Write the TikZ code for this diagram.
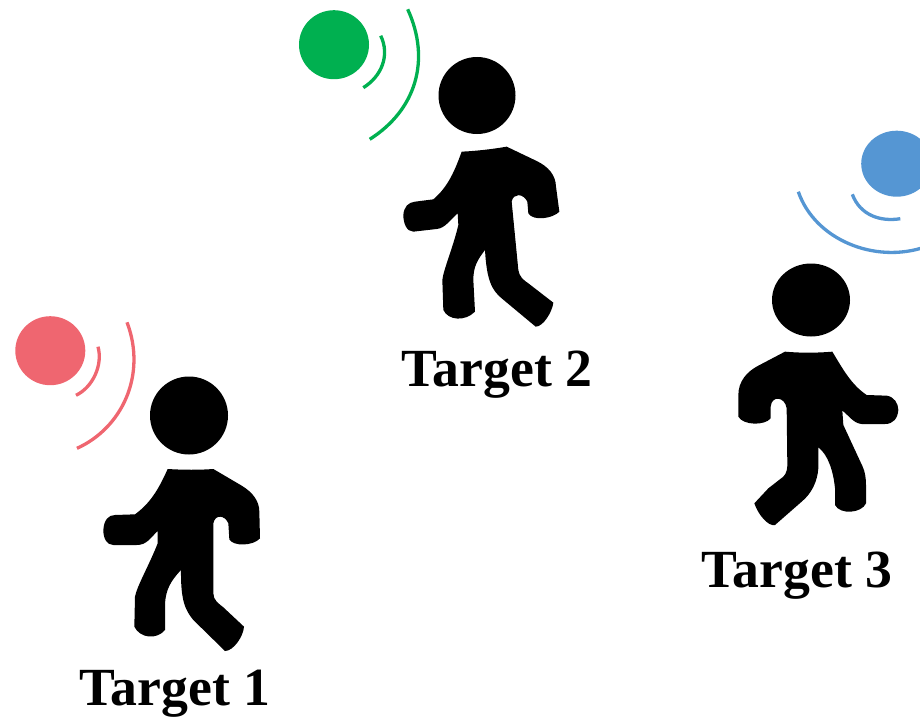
\documentclass[tikz,border=0pt]{standalone}
\usepackage{fontspec}
\usetikzlibrary{shapes.geometric}
\setmainfont{Liberation Serif}
\tikzset{
  ballfill/.style={fill=#1,draw=none},
  wave/.style={draw=#1,line width=3.3pt,line cap=butt},
  label/.style={font=\bfseries\fontsize{53.7}{54}\selectfont,anchor=base,inner sep=0pt},
  figure/.style={fill=black,draw=none}
}
\definecolor{cred}{HTML}{EF6670}
\definecolor{cgreen}{HTML}{00B050}
\definecolor{cblue}{HTML}{5596D3}
\begin{document}
\begin{tikzpicture}[x=1pt,y=-1pt]
\useasboundingbox (0,0) rectangle (920,717);
\clip (0,0) rectangle (920,717);
% walker 1
\node[figure,circle,minimum size=78pt,inner sep=0pt] (head1) at (189,415.5) {};
\begin{scope}[shift={(90,370)},scale=1/3]
  \path[figure] (233,297) .. controls (280,300) and (330,300) .. (370,297)
  -- (455,347) .. controls (490,368) and (508,395) .. (508,425)
  -- (510,505) .. controls (490,528) and (430,530) .. (418,508)
  -- (415,460) .. controls (405,435) and (375,432) .. (370,460)
  -- (370,670) .. controls (370,690) and (385,700) .. (400,712) -- (462,770)
  .. controls (460,800) and (430,843) .. (405,843)
  -- (310,750) .. controls (285,720) and (272,690) .. (273,600)
  .. controls (240,635) and (228,660) .. (225,700) -- (225,780)
  .. controls (200,810) and (150,805) .. (133,770)
  -- (135,680) .. controls (140,650) and (180,580) .. (203,520)
  -- (203,483) .. controls (180,505) and (170,525) .. (140,525)
  -- (70,525) .. controls (50,525) and (40,505) .. (40,480)
  .. controls (42,450) and (55,435) .. (75,435)
  -- (135,433) .. controls (180,400) and (205,360) .. (233,297) -- cycle;
\end{scope}
% walker 2
\node[figure,circle,minimum size=77pt,inner sep=0pt] (head2) at (477,95.5) {};
\begin{scope}[shift={(390,50)},scale=1/3]
  \path[figure] (215,305) .. controls (260,303) and (310,297) .. (350,290)
  -- (440,333) .. controls (475,350) and (497,375) .. (498,410)
  -- (508,485) .. controls (490,505) and (430,515) .. (415,490)
  -- (412,455) .. controls (400,430) and (370,428) .. (365,455)
  -- (385,660) .. controls (388,680) and (400,690) .. (415,700) -- (490,758)
  .. controls (487,785) and (460,830) .. (437,830)
  -- (335,745) .. controls (305,720) and (290,690) .. (285,600)
  .. controls (262,630) and (250,650) .. (250,690)
  -- (255,785) .. controls (225,815) and (175,812) .. (160,780)
  -- (157,690) .. controls (160,660) and (190,590) .. (205,525)
  -- (203,490) .. controls (180,510) and (165,535) .. (140,537)
  -- (70,545) .. controls (50,545) and (40,520) .. (40,495)
  .. controls (42,470) and (55,457) .. (75,455)
  -- (130,448) .. controls (175,410) and (195,360) .. (215,305) -- cycle;
\end{scope}
% walker 3
\node[figure,ellipse,minimum width=78pt,minimum height=73pt,inner sep=0pt] (head3) at (811,300) {};
\begin{scope}[shift={(730,255)},scale=1/3]
  \path[figure] (165,290) .. controls (210,294) and (260,294) .. (307,290)
  .. controls (340,345) and (365,390) .. (410,420)
  -- (470,422) .. controls (492,425) and (505,445) .. (505,465)
  .. controls (503,490) and (490,507) .. (465,507)
  -- (395,507) .. controls (370,505) and (355,480) .. (337,467)
  -- (340,510) -- (398,635) .. controls (405,650) and (408,670) .. (408,690)
  -- (408,745) .. controls (395,775) and (330,780) .. (315,750)
  -- (315,700) .. controls (310,650) and (295,600) .. (265,577)
  -- (265,640) .. controls (262,680) and (245,715) .. (215,740)
  -- (135,810) .. controls (115,815) and (85,780) .. (73,745)
  -- (115,700) -- (160,665) .. controls (170,655) and (172,640) .. (172,630)
  -- (170,460) .. controls (165,425) and (125,420) .. (122,455)
  -- (122,490) .. controls (105,512) and (40,512) .. (25,485)
  -- (25,420) .. controls (25,380) and (50,350) .. (85,332)
  -- (165,290) -- cycle;
\end{scope}
% red
\node[ballfill=cred,ellipse,minimum width=70pt,minimum height=69pt,inner sep=0pt] (ball1) at (50.3,350.7) {};
\coordinate (r1a) at (98,346.7); \coordinate (r1b) at (76,395.3);
\coordinate (r2a) at (127,322.3); \coordinate (r2b) at (77,448.3);
\draw[wave=cred] (r1a) .. controls (103,365) and (93,387) .. (r1b);
\draw[wave=cred] (r2a) .. controls (147,375) and (122,428) .. (r2b);
% green
\node[ballfill=cgreen,ellipse,minimum width=70pt,minimum height=69pt,inner sep=0pt] (ball2) at (334,44.7) {};
\coordinate (g1a) at (380.7,35.7); \coordinate (g1b) at (363.3,87.7);
\coordinate (g2a) at (407.7,9.3); \coordinate (g2b) at (369.7,139.3);
\draw[wave=cgreen] (g1a) .. controls (390,55) and (382,76) .. (g1b);
\draw[wave=cgreen] (g2a) .. controls (431,60) and (416,110) .. (g2b);
% blue
\node[ballfill=cblue,ellipse,minimum width=71pt,minimum height=66pt,inner sep=0pt] (ball3) at (896.7,163.7) {};
\coordinate (b1a) at (852.3,194.3); \coordinate (b1b) at (900.3,218.7);
\coordinate (b2a) at (798.3,191.7); \coordinate (b2b) at (925,247);
\draw[wave=cblue] (b1a) .. controls (860,215) and (880,222) .. (b1b);
\draw[wave=cblue] (b2a) .. controls (815,240) and (875,264) .. (b2b);
% labels
\node[label] (t1) at (175,705) {Target 1};
\node[label] (t2) at (497,386) {Target 2};
\node[label] (t3) at (797,587) {Target 3};
\end{tikzpicture}
\end{document}
